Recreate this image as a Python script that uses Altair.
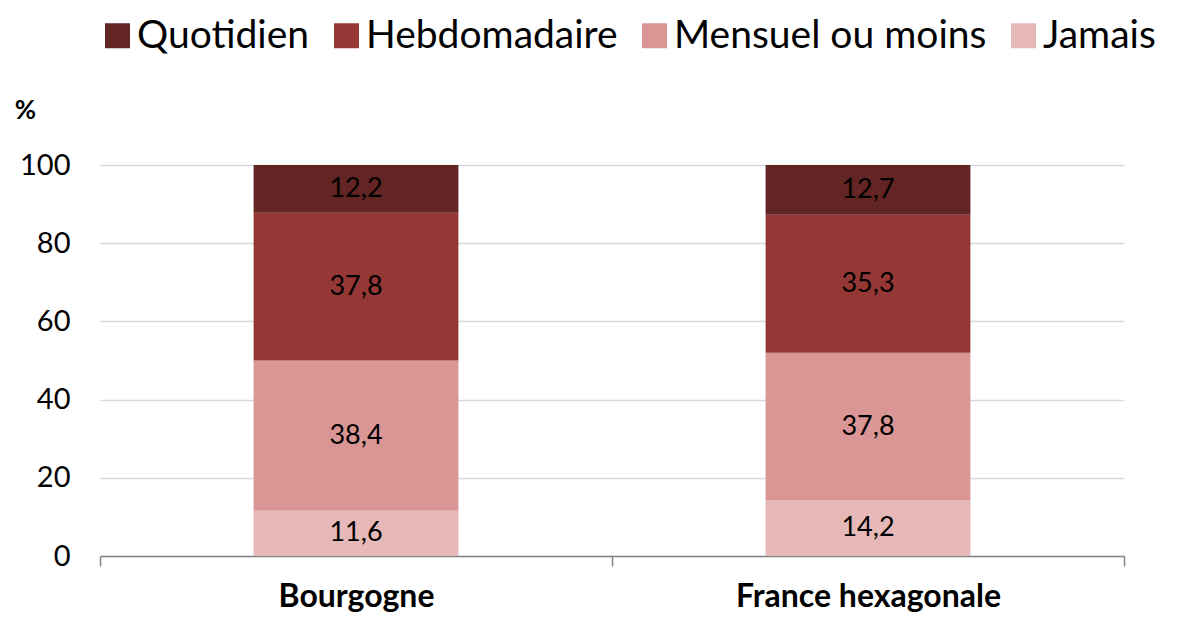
import altair as alt
import pandas as pd

regions = ["Bourgogne", "France hexagonale"]
categories = ["Quotidien", "Hebdomadaire", "Mensuel ou moins", "Jamais"]
colors = ["#632523", "#953735", "#D99694", "#E6B9B8"]
quotidien = [12.2, 12.7]
hebdomadaire = [37.8, 35.3]
mensuel = [38.4, 37.8]
jamais = [11.6, 14.2]

series = {"Quotidien": quotidien, "Hebdomadaire": hebdomadaire,
          "Mensuel ou moins": mensuel, "Jamais": jamais}
stack_order = {"Jamais": 0, "Mensuel ou moins": 1, "Hebdomadaire": 2, "Quotidien": 3}
rows = []
for cat, vals in series.items():
    for r, v in zip(regions, vals):
        rows.append({"region": r, "cat": cat, "value": v, "ord": stack_order[cat]})
df = pd.DataFrame(rows)

FONT = "Lato"

base = alt.Chart(df).transform_stack(
    stack="value", groupby=["region"], as_=["y0", "y1"],
    sort=[alt.SortField("ord", order="ascending")]
).transform_calculate(
    mid="(datum.y0 + datum.y1) / 2",
    label="replace(format(datum.value, '.1f'), '.', ',')"
)

xenc = alt.X("region:N", sort=regions,
             scale=alt.Scale(paddingInner=0, paddingOuter=0),
             axis=alt.Axis(title=None, labelFontWeight="bold", labelFontSize=32,
                           labelColor="#000000", labelPadding=15, labelAngle=0,
                           labelLimit=500,
                           domainColor="#868686", domainWidth=1.5,
                           tickColor="#868686", tickSize=10, tickWidth=1.5,
                           tickBand="extent", labelFont=FONT))

bars = base.mark_bar(width=alt.RelativeBandSize(0.4)).encode(
    x=xenc,
    y=alt.Y("y0:Q", scale=alt.Scale(domain=[0, 100]),
            axis=alt.Axis(values=[0, 20, 40, 60, 80, 100], title="%", titleAngle=0,
                          titleFontWeight="bold", titleFontSize=26, titleX=-75,
                          titleY=-42, titleAlign="center", titleFont=FONT,
                          labelFontSize=29, labelColor="#000000", labelPadding=30,
                          labelFont=FONT, domain=False, ticks=False,
                          gridColor="#D9D9D9", gridWidth=1.5)),
    y2="y1:Q",
    color=alt.Color("cat:N", sort=categories,
                    scale=alt.Scale(domain=categories, range=colors),
                    legend=alt.Legend(title=None, orient="none", direction="horizontal",
                                      legendX=-2, legendY=-149, columns=4,
                                      symbolType="square", symbolSize=625,
                                      symbolStrokeWidth=0, labelFontSize=39,
                                      labelFont=FONT, labelColor="#000000",
                                      columnPadding=17, labelOffset=0,
                                      labelLimit=500)),
    order=alt.Order("ord:Q"),
)

labels = base.mark_text(fontSize=27, font=FONT, color="#000000").encode(
    x=alt.X("region:N", sort=regions),
    y=alt.Y("mid:Q"),
    text="label:N",
)

chart = alt.layer(bars, labels).properties(
    width=1024, height=391,
    autosize=alt.AutoSizeParams(type="none"),
    padding={"left": 92, "top": 157, "right": 62, "bottom": 58},
).configure_view(stroke=None).configure_axis(grid=True)

chart = chart.configure_axisX(grid=False)

chart.save("out.html", embed_options={"renderer": "svg", "actions": False})
